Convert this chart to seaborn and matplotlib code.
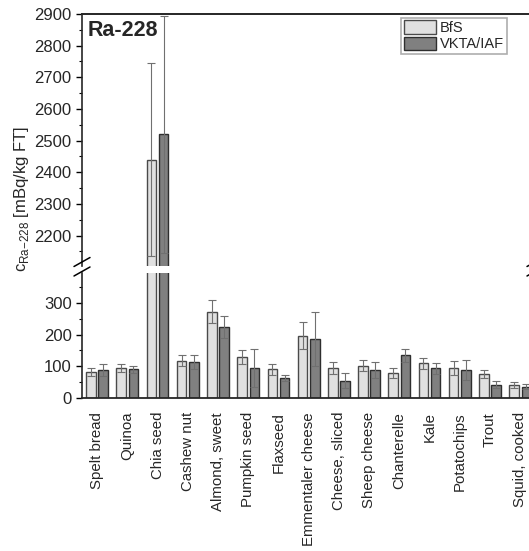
import numpy as np
import pandas as pd
import matplotlib
matplotlib.use("Agg")
import matplotlib.pyplot as plt
from matplotlib.patches import Patch
from matplotlib.lines import Line2D
from matplotlib.ticker import MultipleLocator
import seaborn as sns

# Ra-228 activity per food, two labs
foods = ["Spelt bread", "Quinoa", "Chia seed", "Cashew nut", "Almond, sweet",
         "Pumpkin seed", "Flaxseed", "Emmentaler cheese", "Cheese, sliced",
         "Sheep cheese", "Chanterelle", "Kale", "Potatochips", "Trout", "Squid, cooked"]
labs = ["BfS", "VKTA/IAF"]
bfs = [81, 94, 2440, 117, 272, 129, 90, 196, 94, 102, 78, 109, 95, 76, 40]
bfs_err = [13, 13, 305, 17, 36, 23, 16, 42, 19, 17, 16, 17, 23, 12, 10]
vkta = [87, 90, 2520, 113, 223, 95, 63, 185, 55, 88, 135, 93, 88, 42, 36]
vkta_err = [19, 12, 374, 23, 34, 59, 10, 85, 24, 26, 20, 18, 31, 11, 7]

df = pd.DataFrame({
    "food": foods * 2,
    "lab": [labs[0]] * len(foods) + [labs[1]] * len(foods),
    "value": bfs + vkta,
})

sns.set_style("white")
plt.rcParams["font.family"] = ["Liberation Sans", "DejaVu Sans"]
plt.rcParams["mathtext.fontset"] = "custom"
plt.rcParams["mathtext.rm"] = "Liberation Sans"

fig = plt.figure(figsize=(5.29, 5.51), dpi=100)
ax_top = fig.add_axes([0.155, 0.5178, 0.857, 0.4568])
ax_bot = fig.add_axes([0.155, 0.2777, 0.857, 0.2274])

face = {"BfS": "#e0e0e0", "VKTA/IAF": "#808080"}
edges = ["#4a4a4a", "#2e2e2e"]

for ax in (ax_top, ax_bot):
    sns.barplot(data=df, x="food", y="value", hue="lab", hue_order=labs,
                palette=face, saturation=1, width=0.81, gap=0.22,
                errorbar=None, legend=False, ax=ax)
    for cont, err, ec in zip(ax.containers, [bfs_err, vkta_err], edges):
        xs = [p.get_x() + p.get_width() / 2 for p in cont]
        hs = [p.get_height() for p in cont]
        for p in cont:
            p.set_edgecolor(ec)
            p.set_linewidth(1.0)
        ax.errorbar(xs, hs, yerr=err, fmt="none", ecolor="#707070",
                    elinewidth=0.8, capsize=2.7, capthick=0.8, zorder=3)
    ax.set_xlim(-0.5, 14.5)
    ax.set_xlabel("")
    ax.set_ylabel("")
    ax.spines["right"].set_visible(False)
    ax.spines["left"].set_linewidth(1.2)
    ax.yaxis.set_minor_locator(MultipleLocator(50))
    ax.tick_params(axis="y", which="major", direction="out", length=4.5, width=1,
                   labelsize=12, pad=3, left=True, color="black")
    ax.tick_params(axis="y", which="minor", direction="out", length=2.5, width=0.8,
                   left=True, color="black")

# upper part
ax_top.set_ylim(2105, 2900)
ax_top.set_yticks(np.arange(2200, 2901, 100))
ax_top.spines["bottom"].set_visible(False)
ax_top.spines["top"].set_linewidth(1.4)
ax_top.tick_params(axis="x", bottom=False, labelbottom=False)
ax_top.text(0.013, 0.975, "Ra-228", transform=ax_top.transAxes, fontsize=15.5,
            fontweight="bold", ha="left", va="top")

# lower part
ax_bot.set_ylim(0, 395)
ax_bot.set_yticks(np.arange(0, 301, 100))
ax_bot.spines["top"].set_visible(False)
ax_bot.spines["bottom"].set_linewidth(1.3)
ax_bot.tick_params(axis="x", length=0, pad=10, labelsize=10.8, labelrotation=90)

# break marks
W, H = 529, 551
for x0 in (74, 527):
    for y0 in (266.5, 276):
        fig.add_artist(Line2D([x0 / W, (x0 + 16) / W],
                              [1 - y0 / H, 1 - (y0 - 9) / H],
                              color="black", lw=1.1, transform=fig.transFigure))

handles = [Patch(facecolor=face[l], edgecolor=e, linewidth=1.0) for l, e in zip(labs, edges)]
leg = ax_top.legend(handles, labs, loc="upper right", bbox_to_anchor=(507 / W, 1 - 17.5 / H),
                    bbox_transform=fig.transFigure, fontsize=10.5, frameon=True, fancybox=False,
                    borderpad=0.2, labelspacing=0.1, handlelength=2.2, handleheight=1.05,
                    handletextpad=0.3, borderaxespad=0)
leg.get_frame().set_edgecolor("#999999")
leg.get_frame().set_linewidth(1.2)

fig.text(22 / W, 1 - 199 / H, r"c$_\mathregular{Ra{-}228}$ [mBq/kg FT]", rotation=90,
         ha="center", va="center", fontsize=12)

fig.savefig("out.png", dpi=100)
